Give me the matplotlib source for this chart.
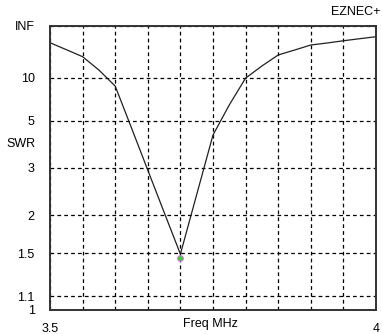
import numpy as np
import matplotlib
matplotlib.use('Agg')
import matplotlib.pyplot as plt

plt.rcParams['font.family'] = ['Liberation Sans', 'DejaVu Sans']

# SWR sweep, 3.5 - 4.0 MHz
freq = [3.5, 3.525, 3.55, 3.575, 3.6, 3.625, 3.65, 3.675, 3.7,
        3.725, 3.75, 3.775, 3.8, 3.825, 3.85, 3.875, 3.9, 3.925, 3.95, 3.975, 4.0]
swr = [33, 23, 17.5, 11.9, 8.45, 4.57, 2.94, 2.05, 1.49,
       2.37, 4.21, 6.2, 9.9, 13.2, 18.6, 22.6, 28.9, 32.4, 37.5, 43.7, 52]
marker_f = 3.7
marker_swr = 1.45

swr_ticks = [1, 1.1, 1.5, 2, 3, 5, 10, 1e6]
swr_labels = ['1', '1.1', '1.5', '2', '3', '5', '10', 'INF']


# EZNEC draws SWR linear in reflection coefficient
def fwd(s):
    s = np.asarray(s, dtype=float)
    return (s - 1) / (s + 1)


def inv(r):
    r = np.asarray(r, dtype=float)
    with np.errstate(divide='ignore', invalid='ignore'):
        return (1 + r) / (1 - r)


fig = plt.figure(figsize=(3.82, 3.34), dpi=100)
ax = fig.add_axes([50 / 382, 24 / 334, 326 / 382, 284 / 334])
ax.set_yscale('function', functions=(fwd, inv))

ax.plot(freq, swr, color='#202020', lw=0.9)
ax.plot([marker_f], [marker_swr], 'o', ms=4, mfc='#22dd22', mec='#dd66dd', mew=0.8)

ax.set_xlim(3.5, 4.0)
ax.set_ylim(1, 1e6)
ax.set_xticks(np.linspace(3.5, 4.0, 11))
ax.set_xticklabels(['3.5'] + [''] * 9 + ['4'])
ax.set_yticks(swr_ticks)
ax.set_yticklabels(swr_labels)
ax.yaxis.set_minor_locator(matplotlib.ticker.NullLocator())
ax.tick_params(length=0, labelsize=9)
ax.tick_params(axis='y', pad=11)
ax.tick_params(axis='x', pad=9)

ax.grid(True, color='black', lw=0.9, ls=(0, (3, 2.5)))
for sp in ax.spines.values():
    sp.set_linewidth(1.4)
    sp.set_color('#333333')

fig.text(183 / 382, 1 - 324 / 334, 'Freq MHz', fontsize=9, va='center', ha='left')
fig.text(6 / 382, 1 - 144 / 334, 'SWR', fontsize=9, va='center', ha='left')
fig.text(380 / 382, 1 - 12 / 334, 'EZNEC+', fontsize=9, va='center', ha='right')

fig.savefig('out.png', dpi=100)
